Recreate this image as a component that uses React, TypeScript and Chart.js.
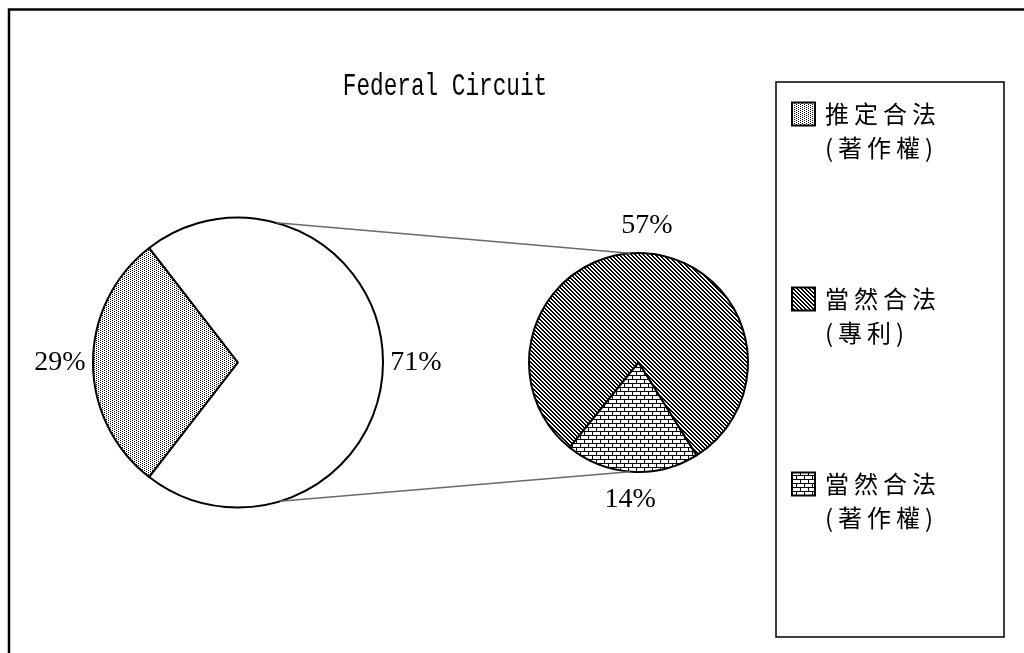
import React, { useEffect, useRef } from 'react';
import { Chart, registerables } from 'chart.js';

Chart.register(...registerables);

const TITLE = 'Federal Circuit';
const mainLabels = ['推定合法（著作權）', '當然合法'];
const mainValues = [29, 71];
const splitLabels = ['當然合法（專利）', '當然合法（著作權）'];
const splitValues = [57, 14];
const legendLines = [
  ['推定合法', '(著作權)'],
  ['當然合法', '(專利)'],
  ['當然合法', '(著作權)'],
];
// connector line anchor angles (degrees clockwise from 12 o'clock)
const connectorMainAngles = [15.4, 163.2];
const connectorSplitAngles = [355.6, 184.5];

function makePattern(kind: string): CanvasPattern | string {
  const c = document.createElement('canvas');
  const ctx = c.getContext('2d');
  if (!ctx) return '#999';
  if (kind === 'dots') {
    c.width = 4; c.height = 2;
    ctx.fillStyle = '#fff'; ctx.fillRect(0, 0, 4, 2);
    ctx.fillStyle = '#000';
    ctx.fillRect(0, 0, 1, 1);
    ctx.fillRect(2, 1, 1, 1);
  } else if (kind === 'hatch') {
    c.width = 4; c.height = 4;
    ctx.fillStyle = '#fff'; ctx.fillRect(0, 0, 4, 4);
    ctx.fillStyle = '#000';
    for (let y = 0; y < 4; y++) {
      for (let x = 0; x < 4; x++) {
        if (((x - y + 8) % 4) < 2) ctx.fillRect(x, y, 1, 1);
      }
    }
  } else {
    c.width = 8; c.height = 8;
    ctx.fillStyle = '#fff'; ctx.fillRect(0, 0, 8, 8);
    ctx.fillStyle = '#000';
    ctx.fillRect(0, 3, 8, 1);
    ctx.fillRect(0, 7, 8, 1);
    ctx.fillRect(0, 0, 1, 3);
    ctx.fillRect(4, 4, 1, 3);
  }
  const p = ctx.createPattern(c, 'repeat');
  return p || '#999';
}

function toRad(degFromTop: number) {
  return ((degFromTop - 90) * Math.PI) / 180;
}

function drawSliceLabels(chart: any, values: number[], gap: number) {
  const ctx = chart.ctx;
  const meta = chart.getDatasetMeta(0);
  ctx.save();
  ctx.fillStyle = '#000';
  ctx.font = '28px "Liberation Serif"';
  ctx.textAlign = 'center';
  ctx.textBaseline = 'middle';
  meta.data.forEach((arc: any, i: number) => {
    const mid = (arc.startAngle + arc.endAngle) / 2;
    const r = arc.outerRadius + gap;
    ctx.fillText(values[i] + '%', arc.x + Math.cos(mid) * r, arc.y + Math.sin(mid) * r);
  });
  ctx.restore();
}

function drawSpaced(ctx: CanvasRenderingContext2D, text: string, x: number, y: number, spacing: number) {
  let cx = x;
  for (const ch of Array.from(text)) {
    ctx.fillText(ch, cx, y);
    cx += ctx.measureText(ch).width + spacing;
  }
}

export default function App() {
  const mainRef = useRef<HTMLCanvasElement>(null);
  const splitRef = useRef<HTMLCanvasElement>(null);

  useEffect(() => {
    if (!mainRef.current || !splitRef.current) return;
    const dots = makePattern('dots');
    const hatch = makePattern('hatch');
    const brick = makePattern('brick');

    const mainDecor = {
      id: 'mainDecor',
      afterDraw(chart: any) {
        const ctx = chart.ctx;
        ctx.save();
        // outer frame
        ctx.strokeStyle = '#000';
        ctx.lineWidth = 2.5;
        ctx.strokeRect(9, 9.5, 1100, 700);
        // title
        ctx.fillStyle = '#000';
        ctx.font = '32px "Liberation Mono"';
        ctx.textAlign = 'center';
        ctx.textBaseline = 'alphabetic';
        ctx.translate(445, 95);
        ctx.scale(0.71, 1);
        ctx.fillText(TITLE, 0, 0);
        ctx.restore();
        drawSliceLabels(chart, mainValues, 33);
      },
    };

    const mainChart = new Chart(mainRef.current, {
      type: 'pie',
      data: {
        labels: mainLabels,
        datasets: [
          {
            data: mainValues,
            backgroundColor: [dots, '#ffffff'],
            borderColor: '#000',
            borderWidth: 2,
          },
        ],
      },
      options: {
        responsive: false,
        animation: false,
        events: [],
        rotation: 217.8,
        radius: 145,
        layout: { padding: { left: 88, right: 636, top: 212.5, bottom: 140.5 } },
        plugins: { legend: { display: false }, tooltip: { enabled: false }, title: { display: false } },
      } as any,
      plugins: [mainDecor],
    });

    const splitDecor = {
      id: 'splitDecor',
      afterDraw(chart: any) {
        const ctx = chart.ctx;
        drawSliceLabels(chart, splitValues, 28);
        // connector lines
        const a = mainChart.getDatasetMeta(0).data[0] as any;
        const b = chart.getDatasetMeta(0).data[0] as any;
        ctx.save();
        ctx.strokeStyle = '#6a6a6a';
        ctx.lineWidth = 1.5;
        for (let i = 0; i < 2; i++) {
          const t1 = toRad(connectorMainAngles[i]);
          const t2 = toRad(connectorSplitAngles[i]);
          ctx.beginPath();
          ctx.moveTo(a.x + Math.cos(t1) * a.outerRadius, a.y + Math.sin(t1) * a.outerRadius);
          ctx.lineTo(b.x + Math.cos(t2) * b.outerRadius, b.y + Math.sin(t2) * b.outerRadius);
          ctx.stroke();
        }
        ctx.restore();
        // legend
        const swatches = [
          (mainChart.data.datasets[0] as any).backgroundColor[0],
          (chart.data.datasets[0] as any).backgroundColor[0],
          (chart.data.datasets[0] as any).backgroundColor[1],
        ];
        ctx.save();
        ctx.strokeStyle = '#000';
        ctx.lineWidth = 1.5;
        ctx.fillStyle = '#fff';
        ctx.fillRect(776, 82, 228, 555);
        ctx.strokeRect(776, 82, 228, 555);
        const step = 185;
        for (let i = 0; i < 3; i++) {
          const cy = 114 + i * step;
          ctx.fillStyle = swatches[i];
          ctx.fillRect(792, cy - 11.5, 23, 23);
          ctx.lineWidth = 2;
          ctx.strokeRect(792, cy - 11.5, 23, 23);
          ctx.fillStyle = '#000';
          ctx.font = '24px "Noto Sans CJK TC"';
          ctx.textAlign = 'left';
          ctx.textBaseline = 'middle';
          drawSpaced(ctx, legendLines[i][0], 825, cy, 5);
          drawSpaced(ctx, legendLines[i][1], 825, cy + 34, 5);
        }
        ctx.restore();
      },
    };

    const splitChart = new Chart(splitRef.current, {
      type: 'pie',
      data: {
        labels: splitLabels,
        datasets: [
          {
            data: splitValues,
            backgroundColor: [hatch, brick],
            borderColor: '#000',
            borderWidth: 2,
          },
        ],
      },
      options: {
        responsive: false,
        animation: false,
        events: [],
        rotation: 219,
        radius: 109.5,
        layout: { padding: { left: 518.5, right: 265.5, top: 242.5, bottom: 170.5 } },
        plugins: { legend: { display: false }, tooltip: { enabled: false }, title: { display: false } },
      } as any,
      plugins: [splitDecor],
    });

    return () => {
      splitChart.destroy();
      mainChart.destroy();
    };
  }, []);

  return (
    <div style={{ position: 'fixed', left: 0, top: 0, width: 1024, height: 653, background: '#fff', overflow: 'hidden' }}>
      <canvas ref={mainRef} width={1024} height={653} style={{ position: 'absolute', left: 0, top: 0 }} />
      <canvas ref={splitRef} width={1024} height={653} style={{ position: 'absolute', left: 0, top: 0 }} />
    </div>
  );
}
